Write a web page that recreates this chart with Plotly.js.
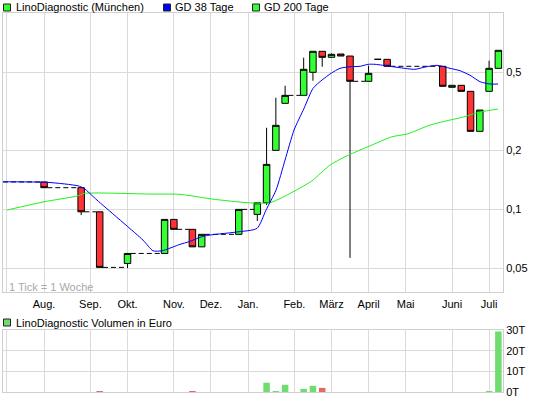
<!DOCTYPE html>
<html><head><meta charset="utf-8">
<script src="https://cdn.plot.ly/plotly-3.0.1.min.js"></script>
<style>html,body{margin:0;padding:0;background:#fff;}#chart{width:545px;height:398px;}</style>
</head><body><div id="chart"></div>
<script>
// ---- data (weekly candles, x = week index; week 0 = start of July of previous year)
const weeks  = [4,8,10,13,17,18,20,21,25,27,28,29,30,32,33,34,35,36,37,39,40,41,47,48,49,50,51,52,53];
const opens  = [0.138,0.129,0.0972,0.053,0.0596,0.0889,0.0791,0.0644,0.0746,0.0943,0.1081,0.2,0.3474,0.3815,0.5,0.64,0.5963,0.62,0.6055,0.45,0.5824,0.5824,0.5366,0.4193,0.4293,0.40,0.25,0.40,0.524];
const highs  = [0.138,0.129,0.0972,0.0596,0.0889,0.0889,0.0791,0.0746,0.1,0.1081,0.2608,0.371,0.4272,0.5935,0.64,0.64,0.625,0.62,0.6055,0.5404,0.5824,0.5824,0.5366,0.4293,0.4293,0.40,0.3211,0.573,0.6475];
const lows   = [0.129,0.0935,0.0506,0.0502,0.0596,0.0791,0.0644,0.0644,0.0746,0.0872,0.1052,0.2,0.3474,0.3815,0.4531,0.534,0.5963,0.6055,0.0566,0.45,0.5824,0.5366,0.4243,0.4193,0.40,0.25,0.25,0.40,0.524];
const closes = [0.129,0.0972,0.0506,0.0596,0.0889,0.0791,0.0644,0.0746,0.1,0.1081,0.1696,0.2683,0.3815,0.518,0.64,0.5963,0.6177,0.6055,0.45,0.494,0.5824,0.5366,0.4243,0.4293,0.40,0.25,0.3211,0.524,0.6475];
const volumes= [0,0,500,0,0,0,500,0,0,0,4500,500,3500,1500,3000,2000,0,0,0,0,0,0,0,0,0,0,0,500,29300];

const ma38Weeks = [-0.43,4.42,7.66,8.31,9.71,14.67,15.75,16.72,18.66,19.63,21.25,24.7,26.97,27.94,29.02,29.99,30.96,32.04,33.01,33.98,34.95,35.92,37.0,38.08,38.94,39.7,41.32,42.39,44.01,45.09,46.39,47.79,48.87,49.95,51.03,52.1,52.97];
const ma38      = [0.1383,0.1373,0.1319,0.128,0.1115,0.0697,0.0615,0.0615,0.0663,0.0684,0.0731,0.0766,0.08,0.0992,0.1254,0.1784,0.2539,0.3275,0.4143,0.4567,0.494,0.524,0.534,0.5366,0.5493,0.5493,0.5366,0.5277,0.518,0.532,0.543,0.524,0.5094,0.4828,0.4477,0.4358,0.4358];
const ma200Weeks= [0,3.99,7.66,8.31,15.43,18.66,22.11,26.0,28.37,31.07,32.9,34.84,36.46,38.08,39.37,41.53,43.15,45.63,47.79,49.08,51.03,52.97];
const ma200     = [0.0992,0.1093,0.1173,0.1207,0.1197,0.1193,0.1129,0.1081,0.1081,0.1244,0.1399,0.1683,0.1855,0.2007,0.2129,0.2347,0.2422,0.2692,0.2855,0.2947,0.3136,0.3249];

const monthWeeks  = [0,4,9,13,18,22,26,31,35,39,43,48,52];
const monthLabels = ['','Aug.','Sep.','Okt.','Nov.','Dez.','Jan.','Feb.','März','April','Mai','Juni','Juli'];
const priceTicks  = [0.05,0.1,0.2,0.5];
const priceLabels = ['0,05','0,1','0,2','0,5'];
const volTicks    = [0,10000,20000,30000];
const volLabels   = ['0T','10T','20T','30T'];

// ---- dashed "no trade" connectors derived from candle data
const dashX = [], dashY = [];
const XMIN = -0.43, XMAX = 53.5, HALF = 0.35;
dashX.push(XMIN, weeks[0]-HALF, null); dashY.push(opens[0], opens[0], null);
for (let i = 0; i < weeks.length-1; i++) {
  if (weeks[i+1]-weeks[i] > 1) {
    dashX.push(weeks[i]+HALF, weeks[i+1]-HALF, null);
    dashY.push(closes[i], closes[i], null);
  }
}
const volColors = closes.map((c,i)=> c >= opens[i] ? '#6edc6e' : '#e06a6a');

const W = 545, H = 398;
const px = v => v / W, py = v => 1 - v / H;
const FONT = 'Liberation Sans, Arial, sans-serif';
const grid = '#dadada';

const traces = [
  {type:'scatter', mode:'lines', x:dashX, y:dashY, line:{color:'#000', width:1, dash:'5px,3px'}, hoverinfo:'skip', showlegend:false, xaxis:'x', yaxis:'y'},
  {type:'candlestick', x:weeks, open:opens, high:highs, low:lows, close:closes, xaxis:'x', yaxis:'y',
   increasing:{fillcolor:'#33ff33', line:{color:'#000', width:1}},
   decreasing:{fillcolor:'#ff3333', line:{color:'#000', width:1}},
   whiskerwidth:0, showlegend:false},
  {type:'scatter', mode:'lines', x:ma200Weeks, y:ma200, line:{color:'#22ee22', width:1, shape:'spline', smoothing:0.6}, showlegend:false, xaxis:'x', yaxis:'y'},
  {type:'scatter', mode:'lines', x:ma38Weeks, y:ma38, line:{color:'#0000ff', width:1, shape:'spline', smoothing:0.6}, showlegend:false, xaxis:'x', yaxis:'y'},
  {type:'bar', x:weeks, y:volumes, width:0.7, marker:{color:volColors}, xaxis:'x2', yaxis:'y2', showlegend:false}
];

const axisCommon = {showgrid:true, gridcolor:grid, gridwidth:1, zeroline:false, showline:true, linecolor:'#cfcfcf', linewidth:1, mirror:true, ticks:'', fixedrange:true};

const layout = {
  width:W, height:H, margin:{l:0,r:0,t:0,b:0}, paper_bgcolor:'#fff', plot_bgcolor:'#fff',
  font:{family:FONT, size:11, color:'#000'}, showlegend:false, boxgap:0.3, boxgroupgap:0,
  xaxis: Object.assign({}, axisCommon, {domain:[px(3), px(503)], range:[XMIN, XMAX], tickmode:'array', tickvals:monthWeeks, ticktext:monthLabels, anchor:'y', rangeslider:{visible:false}, tickfont:{size:11}, ticklabelstandoff:2}),
  yaxis: Object.assign({}, axisCommon, {domain:[py(292), py(13)], type:'log', range:[Math.log10(0.0379), Math.log10(1.0035)], side:'right', tickmode:'array', tickvals:priceTicks, ticktext:priceLabels, anchor:'x'}),
  xaxis2: Object.assign({}, axisCommon, {domain:[px(3), px(503)], range:[XMIN, XMAX], tickmode:'array', tickvals:monthWeeks, showticklabels:false, anchor:'y2'}),
  yaxis2: Object.assign({}, axisCommon, {domain:[py(392), py(330)], range:[0, 30000], side:'right', tickmode:'array', tickvals:volTicks, ticktext:volLabels, anchor:'x2'}),
  shapes: [
    {type:'rect', xref:'paper', yref:'paper', x0:px(3.5), x1:px(10.5), y0:py(11), y1:py(4), fillcolor:'#33ff33', line:{color:'#222', width:1}},
    {type:'rect', xref:'paper', yref:'paper', x0:px(163.5), x1:px(170.5), y0:py(11), y1:py(4), fillcolor:'#0000ff', line:{color:'#222', width:1}},
    {type:'rect', xref:'paper', yref:'paper', x0:px(252.5), x1:px(259.5), y0:py(11), y1:py(4), fillcolor:'#33ff33', line:{color:'#222', width:1}},
    {type:'rect', xref:'paper', yref:'paper', x0:px(3.5), x1:px(10.5), y0:py(326), y1:py(319), fillcolor:'#6edc6e', line:{color:'#222', width:1}}
  ],
  annotations: [
    {xref:'paper', yref:'paper', x:px(14), y:py(7.5), xanchor:'left', yanchor:'middle', text:'LinoDiagnostic (München)', showarrow:false, font:{size:11}},
    {xref:'paper', yref:'paper', x:px(173), y:py(7.5), xanchor:'left', yanchor:'middle', text:'GD 38 Tage', showarrow:false, font:{size:11}},
    {xref:'paper', yref:'paper', x:px(262), y:py(7.5), xanchor:'left', yanchor:'middle', text:'GD 200 Tage', showarrow:false, font:{size:11}},
    {xref:'paper', yref:'paper', x:px(14), y:py(322.5), xanchor:'left', yanchor:'middle', text:'LinoDiagnostic Volumen in Euro', showarrow:false, font:{size:11}},
    {xref:'paper', yref:'paper', x:px(7), y:py(286.5), xanchor:'left', yanchor:'middle', text:'1 Tick = 1 Woche', showarrow:false, font:{size:11, color:'#a8a8a8'}}
  ]
};

Plotly.newPlot('chart', traces, layout, {staticPlot:true, displayModeBar:false});
</script></body></html>
